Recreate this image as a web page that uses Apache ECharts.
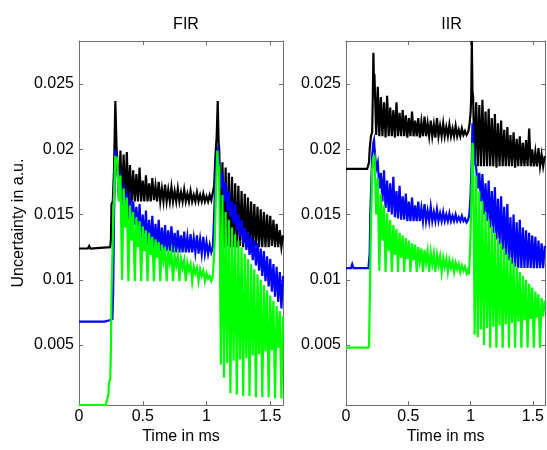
<!DOCTYPE html>
<html>
<head>
<meta charset="utf-8">
<script src="https://cdn.jsdelivr.net/npm/echarts@6/dist/echarts.min.js"></script>
<style>
  html, body { margin: 0; padding: 0; background: #fff; }
  #chart { width: 547px; height: 450px; }
</style>
</head>
<body>
<div id="chart"></div>
<script>
// tick labels
const xTicks = [0, 0.5, 1, 1.5]
const yTicks = [0.005, 0.01, 0.015, 0.02, 0.025]
const titles = ['FIR', 'IIR']
const step = 0.0125 // sample spacing (ms) inside the noisy sections

// ---- FIR (left panel) ----
const firBlackHead = [[0, .0124], [0.07, .0124], [0.08, .0126], [0.09, .0124], [0.245, .0125], [0.25, .0130], [0.255, .0158], [0.265, .0160], [0.275, .0185], [0.285, .0237], [0.295, .0200]]
const firBlackSeg1 = [
  .0192, .0162, .0199, .0158, .0196, .0158, .0198, .0159, .0188, .0159,
  .0184, .0160, .0181, .0160, .0186, .0160, .0176, .0160, .0180, .0160,
  .0174, .0160, .0178, .0161, .0172, .0160, .0175, .0160, .0170, .0160,
  .0173, .0160, .0169, .0160, .0171, .0160, .0168, .0160, .0170, .0160,
  .0167, .0160, .0169, .0160, .0166, .0160, .0168, .0160, .0165, .0160,
  .0167, .0160, .0165, .0160, .0166, .0160, .0164, .0160, .0165, .0161]
const firBlackMid = [[1.05, .0162], [1.06, .0172], [1.07, .0195], [1.08, .0210], [1.088, .0237], [1.095, .0205]]
const firBlackSeg2 = [
  .0200, .0125, .0190, .0125, .0186, .0126, .0182, .0125, .0179, .0125,
  .0174, .0125, .0172, .0126, .0168, .0125, .0166, .0125, .0163, .0125,
  .0160, .0125, .0158, .0126, .0156, .0125, .0154, .0125, .0152, .0125,
  .0150, .0125, .0149, .0126, .0146, .0125, .0143, .0125, .0138, .0125,
  .0134]

const firBlueHead = [[0, .0068], [0.2, .0068], [0.24, .0069], [0.262, .0070], [0.268, .0090], [0.275, .0150], [0.285, .0200], [0.295, .0192]]
const firBlueSeg1 = [
  .0185, .0170, .0178, .0162, .0170, .0158, .0165, .0152, .0162, .0148,
  .0160, .0142, .0156, .0136, .0158, .0132, .0150, .0129, .0153, .0127,
  .0146, .0125, .0149, .0124, .0143, .0123, .0146, .0122, .0140, .0122,
  .0142, .0122, .0138, .0122, .0141, .0121, .0136, .0121, .0138, .0121,
  .0134, .0121, .0137, .0121, .0133, .0121, .0135, .0121, .0132, .0121,
  .0134, .0120, .0131, .0120, .0133, .0120, .0129, .0120, .0127, .0121]
const firBlueMid = [[1.05, .0125], [1.06, .0150], [1.07, .0178], [1.08, .0195], [1.09, .0200], [1.095, .0195]]
const firBlueSeg2 = [
  .0190, .0170, .0182, .0160, .0175, .0153, .0168, .0148, .0160, .0143,
  .0158, .0138, .0150, .0133, .0146, .0128, .0140, .0123, .0137, .0119,
  .0133, .0115, .0130, .0111, .0128, .0107, .0124, .0103, .0122, .0099,
  .0118, .0095, .0116, .0091, .0112, .0087, .0110, .0083, .0106, .0078,
  .0103]

const firGreenHead = [[0, .0004], [0.21, .0004], [0.22, .0005], [0.23, .0012], [0.235, .0021], [0.245, .0024], [0.25, .0045], [0.255, .0090], [0.265, .0130], [0.275, .0165], [0.285, .0195], [0.29, .0190]]
const firGreenSeg1 = [
  .0192, .0160, .0180, .0100, .0170, .0140, .0163, .0099, .0157, .0130,
  .0152, .0099, .0148, .0125, .0145, .0099, .0141, .0122, .0138, .0099,
  .0136, .0119, .0133, .0099, .0131, .0117, .0129, .0099, .0127, .0115,
  .0125, .0099, .0123, .0113, .0121, .0099, .0119, .0111, .0118, .0099,
  .0116, .0109, .0115, .0099, .0113, .0107, .0112, .0099, .0110, .0105,
  .0109, .0099, .0108, .0103, .0107, .0099, .0105, .0101, .0103, .0099]
const firGreenMid = [[1.045, .0101], [1.05, .0104], [1.055, .0112], [1.065, .0130], [1.075, .0170], [1.085, .0199], [1.09, .0190]]
const firGreenSeg2 = [
  .0185, .0035, .0165, .0025, .0152, .0036, .0146, .0013, .0140, .0038,
  .0135, .0012, .0130, .0039, .0125, .0011, .0120, .0040, .0116, .0011,
  .0112, .0042, .0108, .0010, .0104, .0043, .0100, .0010, .0096, .0045,
  .0092, .0010, .0088, .0046, .0084, .0009, .0080, .0048, .0076, .0009,
  .0072]

// ---- IIR (right panel) ----
const iirBlackHead = [[0, .0185], [0.17, .0185], [0.18, .0186], [0.185, .0190], [0.19, .0200], [0.2, .0210], [0.21, .0213], [0.215, .0240], [0.22, .0274], [0.225, .0250]]
const iirBlackSeg1 = [
  .0252, .0211, .0248, .0210, .0240, .0210, .0236, .0209, .0241, .0210,
  .0232, .0210, .0230, .0209, .0236, .0210, .0228, .0210, .0230, .0210,
  .0226, .0209, .0224, .0210, .0229, .0210, .0222, .0210, .0224, .0209,
  .0221, .0210, .0225, .0210, .0220, .0210, .0222, .0210, .0219, .0209,
  .0224, .0210, .0218, .0210, .0220, .0210, .0217, .0210, .0219, .0210,
  .0216, .0210, .0218, .0210, .0215, .0210, .0216, .0211, .0214, .0211,
  .0213]
const iirBlackMid = [[0.99, .0218], [1.0, .0228], [1.005, .0240], [1.01, .0283], [1.015, .0245]]
const iirBlackSeg2 = [
  .0240, .0190, .0236, .0187, .0234, .0187, .0238, .0187, .0229, .0187,
  .0231, .0187, .0224, .0187, .0227, .0186, .0220, .0187, .0222, .0187,
  .0215, .0187, .0217, .0187, .0211, .0187, .0213, .0186, .0208, .0187,
  .0210, .0187, .0205, .0187, .0207, .0187, .0216, .0187, .0200, .0187,
  .0198, .0187, .0201, .0187, .0196, .0187, .0195]

const iirBlueHead = [[0, .0109], [0.04, .0109], [0.05, .0112], [0.06, .0109], [0.18, .0109], [0.19, .0120], [0.195, .0150], [0.2, .0165], [0.21, .0195], [0.22, .0205], [0.225, .0207]]
const iirBlueSeg1 = [
  .0200, .0185, .0190, .0170, .0182, .0160, .0184, .0155, .0176, .0152,
  .0174, .0150, .0179, .0148, .0168, .0147, .0172, .0146, .0164, .0146,
  .0166, .0145, .0160, .0145, .0163, .0145, .0157, .0145, .0160, .0145,
  .0155, .0145, .0158, .0145, .0153, .0145, .0156, .0145, .0152, .0145,
  .0154, .0145, .0151, .0145, .0152, .0145, .0150, .0145, .0151, .0145,
  .0149, .0145, .0150, .0145, .0148, .0145, .0149, .0145, .0147, .0144,
  .0146]
const iirBlueMid = [[0.99, .0150], [1.0, .0165], [1.01, .0195], [1.015, .0220], [1.018, .0212]]
const iirBlueSeg2 = [
  .0210, .0190, .0186, .0170, .0182, .0160, .0181, .0150, .0174, .0145,
  .0176, .0140, .0168, .0136, .0171, .0131, .0162, .0127, .0164, .0123,
  .0156, .0119, .0158, .0115, .0148, .0112, .0150, .0110, .0144, .0109,
  .0146, .0109, .0140, .0109, .0138, .0109, .0136, .0109, .0134, .0109,
  .0133, .0109, .0130, .0109, .0128, .0109, .0126]

const iirGreenHead = [[0, .0048], [0.18, .0048], [0.185, .0050], [0.19, .0080], [0.195, .0110], [0.2, .0140], [0.205, .0160], [0.21, .0185], [0.22, .0195], [0.225, .0190]]
const iirGreenSeg1 = [
  .0192, .0150, .0178, .0107, .0166, .0130, .0157, .0106, .0151, .0122,
  .0146, .0106, .0142, .0119, .0139, .0106, .0136, .0117, .0134, .0106,
  .0132, .0116, .0130, .0106, .0128, .0115, .0127, .0106, .0125, .0114,
  .0124, .0106, .0123, .0113, .0122, .0106, .0121, .0112, .0120, .0106,
  .0119, .0111, .0118, .0106, .0117, .0110, .0116, .0106, .0115, .0109,
  .0114, .0106, .0113, .0108, .0112, .0106, .0111, .0107, .0110, .0105,
  .0108]
const iirGreenMid = [[0.985, .0104], [0.99, .0110], [1.0, .0135], [1.01, .0180], [1.015, .0205], [1.018, .0202]]
const iirGreenSeg2 = [
  .0200, .0058, .0180, .0056, .0168, .0062, .0160, .0050, .0152, .0063,
  .0146, .0048, .0141, .0064, .0136, .0048, .0132, .0065, .0128, .0048,
  .0124, .0066, .0120, .0048, .0117, .0067, .0113, .0048, .0110, .0068,
  .0106, .0048, .0103, .0069, .0100, .0048, .0097, .0070, .0094, .0048,
  .0091, .0071, .0089, .0048, .0086, .0072, .0084]

// joins the quiet head, the two noisy sections and the jump between them
function track (head, s1Start, s1, mid, s2Start, s2) {
  const pts = head.slice()
  s1.forEach((v, i) => pts.push([s1Start + i * step, v]))
  pts.push(...mid)
  s2.forEach((v, i) => pts.push([s2Start + i * step, v]))
  return pts
}

const panels = [
  [
    { color: '#000000', data: track(firBlackHead, 0.30, firBlackSeg1, firBlackMid, 1.10, firBlackSeg2) },
    { color: '#0000ff', data: track(firBlueHead, 0.30, firBlueSeg1, firBlueMid, 1.10, firBlueSeg2) },
    { color: '#00ff00', data: track(firGreenHead, 0.30, firGreenSeg1, firGreenMid, 1.10, firGreenSeg2) }
  ],
  [
    { color: '#000000', data: track(iirBlackHead, 0.23, iirBlackSeg1, iirBlackMid, 1.02, iirBlackSeg2) },
    { color: '#0000ff', data: track(iirBlueHead, 0.23, iirBlueSeg1, iirBlueMid, 1.02, iirBlueSeg2) },
    { color: '#00ff00', data: track(iirGreenHead, 0.23, iirGreenSeg1, iirGreenMid, 1.02, iirGreenSeg2) }
  ]
]

const font = 'Liberation Sans, Arial, sans-serif'
const boxColor = '#6e6e6e'
const xMin = 0, xMax = 1.6
const yMin = 0.0004, yMax = 0.0283

const grids = [
  { left: 79, top: 41, width: 204, height: 371 },
  { left: 346, top: 41, width: 205, height: 371 }
]

const tick = (values) => ({
  show: true, inside: true, length: 4, customValues: values,
  lineStyle: { color: boxColor }
})

const xAxis = []
const yAxis = []
grids.forEach((g, gi) => {
  xAxis.push({
    type: 'value', gridIndex: gi, position: 'bottom', min: xMin, max: xMax,
    name: 'Time in ms', nameLocation: 'middle', nameGap: 20,
    nameTextStyle: { color: '#000', fontSize: 16, fontFamily: font },
    axisLine: { show: true, onZero: false, lineStyle: { color: boxColor } },
    axisTick: tick(xTicks),
    axisLabel: { customValues: xTicks, color: '#000', fontSize: 16, fontFamily: font, margin: 3 },
    splitLine: { show: false }
  })
  xAxis.push({
    type: 'value', gridIndex: gi, position: 'top', min: xMin, max: xMax,
    axisLine: { show: true, onZero: false, lineStyle: { color: boxColor } },
    axisTick: tick(xTicks),
    axisLabel: { show: false },
    splitLine: { show: false }
  })
  yAxis.push({
    type: 'value', gridIndex: gi, position: 'left', min: yMin, max: yMax,
    name: gi === 0 ? 'Uncertainty in a.u.' : '', nameLocation: 'middle', nameGap: 52,
    nameTextStyle: { color: '#000', fontSize: 16, fontFamily: font },
    axisLine: { show: true, onZero: false, lineStyle: { color: boxColor } },
    axisTick: tick(yTicks),
    axisLabel: { customValues: yTicks, color: '#000', fontSize: 16, fontFamily: font, margin: 5 },
    splitLine: { show: false }
  })
  yAxis.push({
    type: 'value', gridIndex: gi, position: 'right', min: yMin, max: yMax,
    axisLine: { show: true, onZero: false, lineStyle: { color: boxColor } },
    axisTick: tick(yTicks),
    axisLabel: { show: false },
    splitLine: { show: false }
  })
})

const series = []
panels.forEach((lines, gi) => {
  lines.forEach(l => {
    series.push({
      type: 'line',
      xAxisIndex: gi * 2,
      yAxisIndex: gi * 2,
      data: l.data,
      showSymbol: false,
      symbol: 'none',
      clip: true,
      lineStyle: { color: l.color, width: 2.2, join: 'miter' },
      z: 2
    })
  })
})

const chart = echarts.init(document.getElementById('chart'), null, { renderer: 'canvas' })
chart.setOption({
  animation: false,
  backgroundColor: '#fff',
  title: titles.map((t, i) => ({
    text: t,
    left: grids[i].left + grids[i].width / 2 - (i === 1 ? 2 : 0),
    top: 12,
    textAlign: 'center',
    textStyle: { color: '#000', fontSize: 16, fontWeight: 'normal', fontFamily: font }
  })),
  grid: grids,
  xAxis,
  yAxis,
  series
})
</script>
</body>
</html>
